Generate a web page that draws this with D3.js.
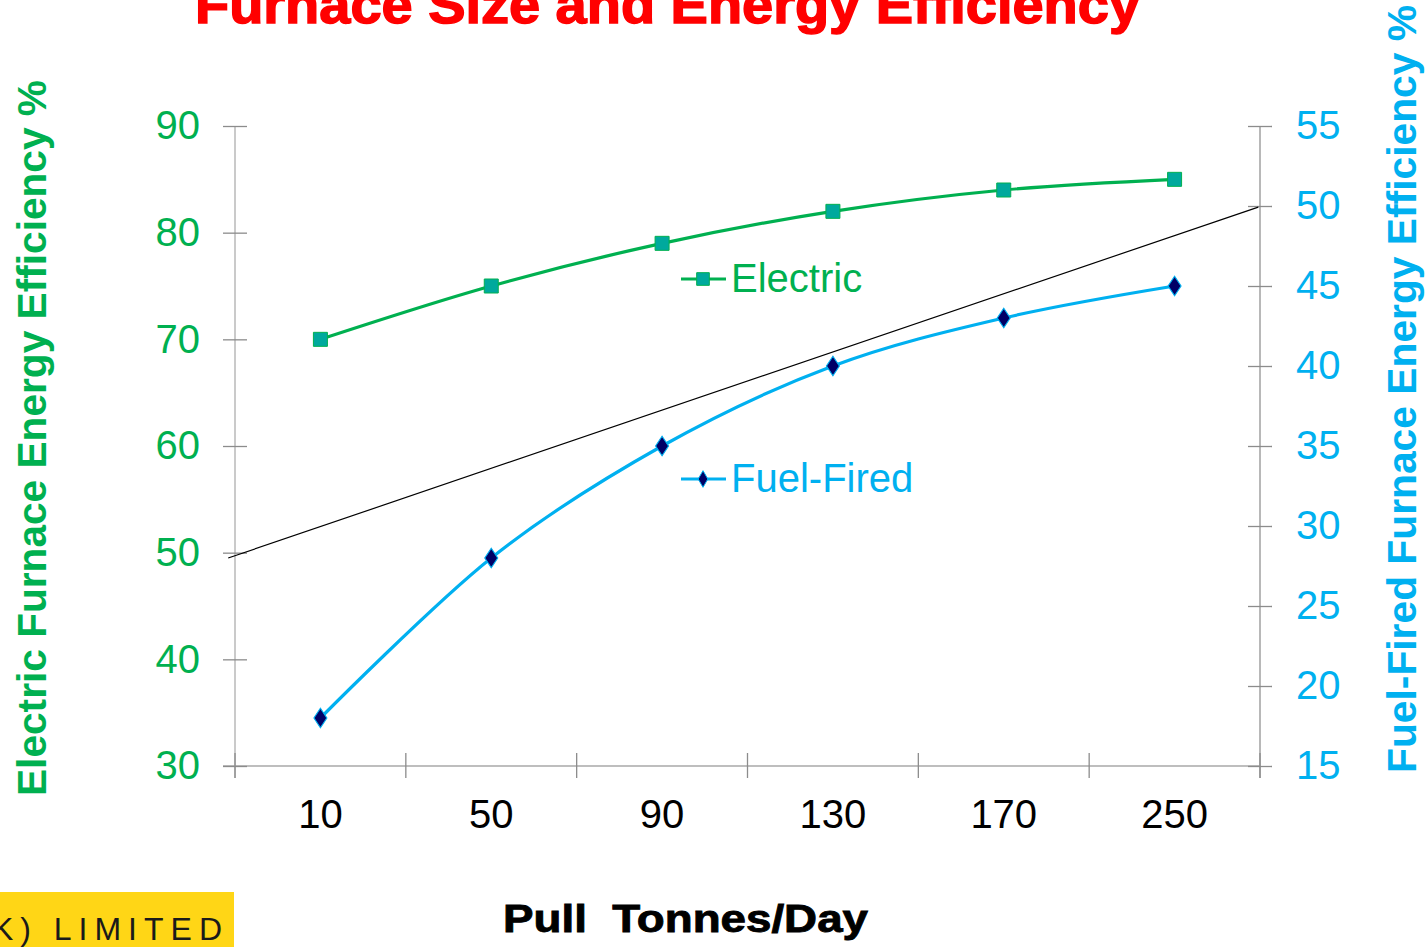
<!DOCTYPE html>
<html>
<head>
<meta charset="utf-8">
<script src="https://cdn.jsdelivr.net/npm/d3@7"></script>
<style>
  html, body { margin: 0; padding: 0; background: #ffffff; }
  svg { display: block; }
  text { font-family: "Liberation Sans", Arial, sans-serif; }
</style>
</head>
<body>
<svg id="chart" width="1427" height="947"></svg>
<script>
// ---- data ----
const categories = ["10", "50", "90", "130", "170", "250"];
const electric = [70, 75, 79, 82, 84, 85];          // left axis (%)
const fuelFired = [18, 28, 35, 40, 43, 45];          // right axis (%)
const leftTicks = [30, 40, 50, 60, 70, 80, 90];
const rightTicks = [15, 20, 25, 30, 35, 40, 45, 50, 55];
// hand-drawn reference line: [category-position units, left-axis value]
const refLine = [[-0.04, 49.5], [5.99, 82.4]];

const titleText = "Furnace Size and Energy Efficiency";
const leftTitle = "Electric Furnace Energy Efficiency %";
const rightTitle = "Fuel-Fired Furnace Energy Efficiency %";
const xTitle = "Pull  Tonnes/Day";

// ---- layout ----
const X0 = 235, X1 = 1260, Y0 = 766, Y1 = 126;
const GREEN = "#00b050", BLUE = "#00b0f0";

const svg = d3.select("#chart");

const x = d3.scaleBand().domain(categories).range([X0, X1]).paddingInner(0).paddingOuter(0);
const xPos = d3.scaleLinear().domain([0, categories.length]).range([X0, X1]);
const yL = d3.scaleLinear().domain([30, 90]).range([Y0, Y1]);
const yR = d3.scaleLinear().domain([15, 55]).range([Y0, Y1]);

// title
svg.append("text")
  .attr("x", 195).attr("y", 23)
  .attr("textLength", 945).attr("lengthAdjust", "spacingAndGlyphs")
  .attr("font-size", 51).attr("font-weight", "bold")
  .attr("fill", "#ff0000").attr("stroke", "#ff0000").attr("stroke-width", 1.4)
  .text(titleText);

// ---- axes ----
const axisG = svg.append("g");
// left axis
axisG.append("line").attr("x1", X0).attr("x2", X0).attr("y1", Y1).attr("y2", Y0 + 12)
  .attr("stroke", "#b8b8b8").attr("stroke-width", 1.5);
const gl = svg.append("g").attr("transform", `translate(${X0},0)`)
  .call(d3.axisLeft(yL).tickValues(leftTicks).tickSize(12).tickPadding(23));
gl.select(".domain").remove();
gl.selectAll(".tick line").attr("x1", 12).attr("x2", -12).attr("stroke", "#8c8c8c").attr("stroke-width", 1.3);
gl.selectAll(".tick text").attr("font-size", 40).attr("fill", GREEN)
  .attr("font-family", "'Liberation Sans', Arial, sans-serif");

// right axis
axisG.append("line").attr("x1", X1).attr("x2", X1).attr("y1", Y1).attr("y2", Y0 + 12)
  .attr("stroke", "#a0a0a0").attr("stroke-width", 1.5);
const gr = svg.append("g").attr("transform", `translate(${X1},0)`)
  .call(d3.axisRight(yR).tickValues(rightTicks).tickSize(12).tickPadding(24));
gr.select(".domain").remove();
gr.selectAll(".tick line").attr("x1", -12).attr("x2", 12).attr("stroke", "#8c8c8c").attr("stroke-width", 1.3);
gr.selectAll(".tick text").attr("font-size", 40).attr("fill", BLUE)
  .attr("font-family", "'Liberation Sans', Arial, sans-serif");

// bottom axis
axisG.append("line").attr("x1", X0 - 12).attr("x2", X1).attr("y1", Y0).attr("y2", Y0)
  .attr("stroke", "#a8a8a8").attr("stroke-width", 1.5);
const boundaries = d3.range(0, categories.length + 1);
svg.append("g").selectAll("line").data(boundaries).join("line")
  .attr("x1", d => xPos(d)).attr("x2", d => xPos(d))
  .attr("y1", Y0 - 13).attr("y2", Y0 + 12)
  .attr("stroke", "#8c8c8c").attr("stroke-width", 1.3);
svg.append("g").selectAll("text").data(categories).join("text")
  .attr("x", d => x(d) + x.bandwidth() / 2).attr("y", Y0 + 62)
  .attr("text-anchor", "middle").attr("font-size", 40).attr("fill", "#000")
  .text(d => d);

// axis titles
svg.append("text")
  .attr("transform", `translate(46,438) rotate(-90)`)
  .attr("text-anchor", "middle").attr("font-size", 40).attr("font-weight", "bold")
  .attr("textLength", 716).attr("lengthAdjust", "spacingAndGlyphs")
  .attr("fill", GREEN).text(leftTitle);
svg.append("text")
  .attr("transform", `translate(1416,389) rotate(-90)`)
  .attr("text-anchor", "middle").attr("font-size", 40).attr("font-weight", "bold")
  .attr("textLength", 768).attr("lengthAdjust", "spacingAndGlyphs")
  .attr("fill", BLUE).text(rightTitle);
svg.append("text")
  .attr("x", 503).attr("y", 932)
  .style("white-space", "pre").attr("xml:space", "preserve")
  .attr("textLength", 365).attr("lengthAdjust", "spacingAndGlyphs")
  .attr("font-size", 39).attr("font-weight", "bold")
  .attr("fill", "#000").attr("stroke", "#000").attr("stroke-width", 0.9)
  .text(xTitle);

// reference line
svg.append("path")
  .datum(refLine)
  .attr("d", d3.line().x(d => xPos(d[0])).y(d => yL(d[1])))
  .attr("fill", "none").attr("stroke", "#000").attr("stroke-width", 1.2);

// ---- series ----
const cx = (d, i) => x(categories[i]) + x.bandwidth() / 2;
const lineE = d3.line().x(cx).y(d => yL(d)).curve(d3.curveCardinal.tension(0));
const lineF = d3.line().x(cx).y(d => yR(d)).curve(d3.curveCardinal.tension(0));

svg.append("path").datum(electric).attr("d", lineE)
  .attr("fill", "none").attr("stroke", GREEN).attr("stroke-width", 3.2);
svg.append("path").datum(fuelFired).attr("d", lineF)
  .attr("fill", "none").attr("stroke", BLUE).attr("stroke-width", 3.2);

const sq = d3.symbol().type(d3.symbolSquare).size(196);
const dia = d3.symbol().type(d3.symbolDiamond).size(110);

svg.append("g").selectAll("path").data(electric).join("path")
  .attr("transform", (d, i) => `translate(${cx(d, i)},${yL(d)})`)
  .attr("d", sq).attr("fill", "#00a99d").attr("stroke", GREEN).attr("stroke-width", 1);
svg.append("g").selectAll("path").data(fuelFired).join("path")
  .attr("transform", (d, i) => `translate(${cx(d, i)},${yR(d)}) scale(1.15,1)`)
  .attr("d", dia).attr("fill", "#000066").attr("stroke", BLUE).attr("stroke-width", 1);

// ---- legend labels (placed in plot) ----
const legend = [
  { name: "Electric", color: GREEN, y: 279, base: 292, type: "sq", fill: "#00a99d" },
  { name: "Fuel-Fired", color: BLUE, y: 479, base: 492, type: "dia", fill: "#000066" }
];
const lg = svg.append("g").selectAll("g").data(legend).join("g");
lg.append("line").attr("x1", 681).attr("x2", 726).attr("y1", d => d.y).attr("y2", d => d.y)
  .attr("stroke", d => d.color).attr("stroke-width", 3);
lg.append("path")
  .attr("transform", d => `translate(703,${d.y})`)
  .attr("d", d => d.type === "sq" ? d3.symbol().type(d3.symbolSquare).size(160)() : d3.symbol().type(d3.symbolDiamond).size(80)())
  .attr("fill", d => d.fill).attr("stroke", d => d.color).attr("stroke-width", 1);
lg.append("text").attr("x", 731).attr("y", d => d.base)
  .attr("font-size", 40).attr("fill", d => d.color).text(d => d.name);

// ---- logo fragment ----
svg.append("rect").attr("x", 0).attr("y", 892).attr("width", 234).attr("height", 60)
  .attr("fill", "#ffd616");
svg.append("text").attr("x", 229).attr("y", 940)
  .attr("text-anchor", "end").attr("font-size", 32).attr("font-weight", 300)
  .attr("letter-spacing", 7)
  .attr("font-family", "Lato, 'Open Sans', sans-serif")
  .attr("fill", "#1a1a1a").text("(UK) LIMITED");
</script>
</body>
</html>
